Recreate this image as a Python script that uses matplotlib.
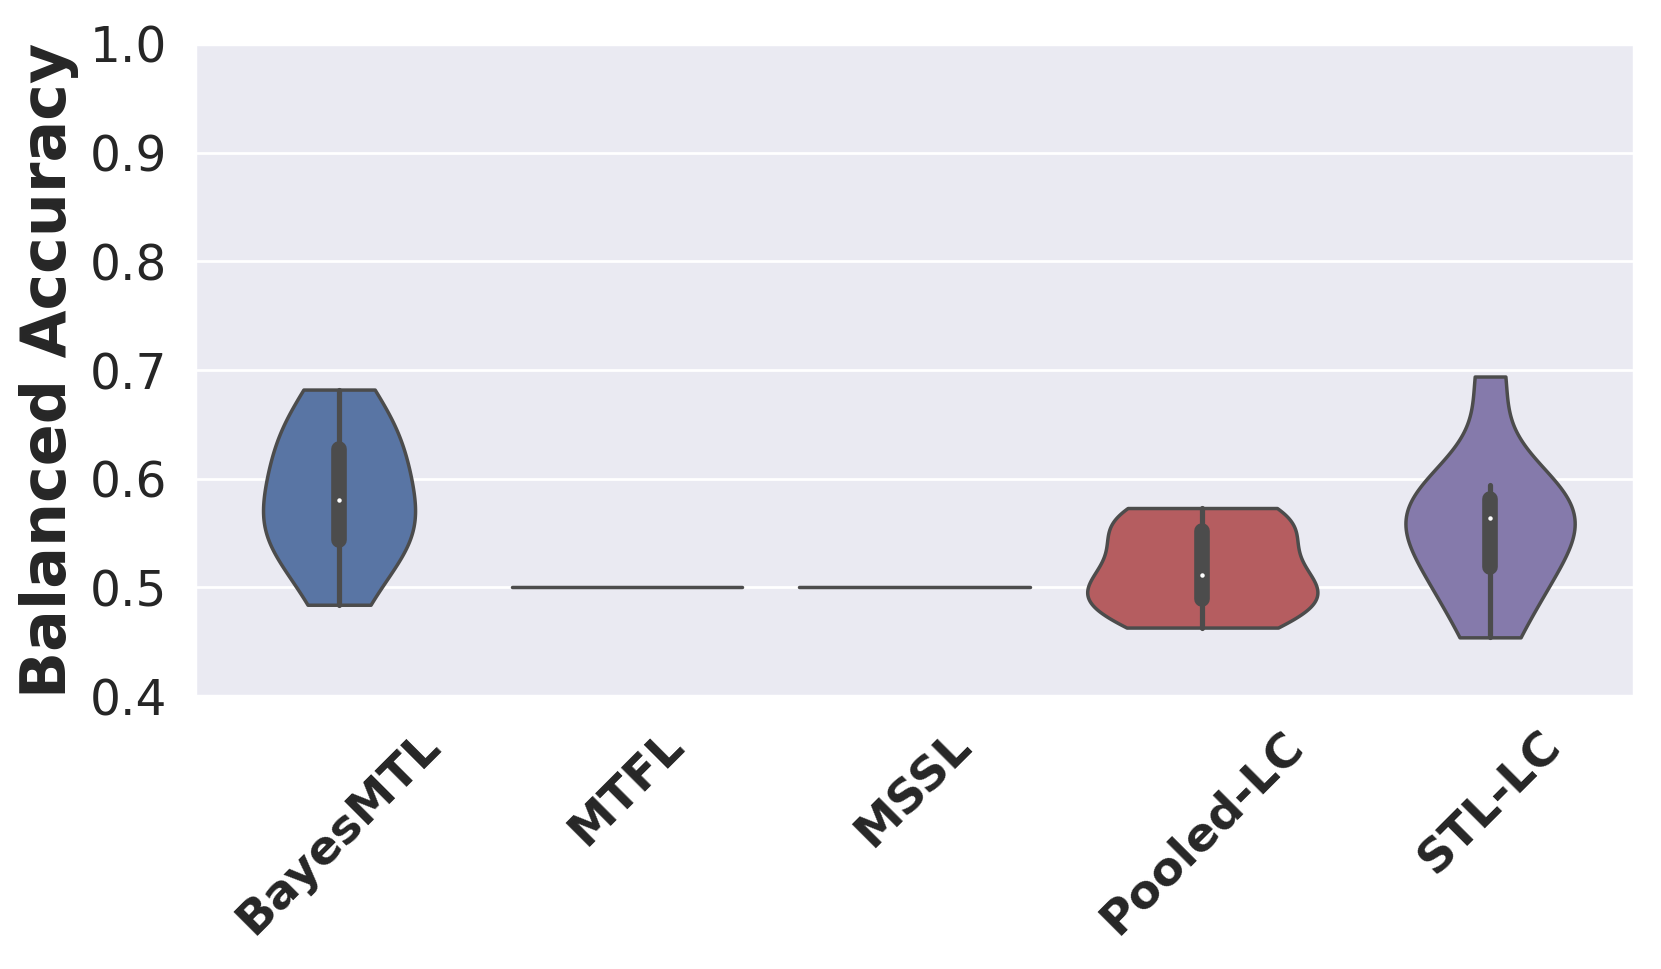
#!/usr/bin/env python3
"""Violin plot of balanced accuracy per method."""
import numpy as np
import pandas as pd

import matplotlib
matplotlib.use("Agg")
import matplotlib.pyplot as plt  # noqa: E402
import seaborn as sns  # noqa: E402

# ---- data (per-task balanced accuracy) --------------------------------------
methods = ["BayesMTL", "MTFL", "MSSL", "Pooled-LC", "STL-LC"]
bayes_mtl = [0.484, 0.530, 0.540, 0.555, 0.568, 0.592, 0.612, 0.632, 0.650, 0.682]
mtfl = [0.5] * 10
mssl = [0.5] * 10
pooled_lc = [0.463, 0.476, 0.487, 0.495, 0.503, 0.519, 0.538, 0.556, 0.566, 0.573]
stl_lc = [0.454, 0.495, 0.515, 0.530, 0.558, 0.570, 0.575, 0.583, 0.594, 0.694]
y_ticks = [0.4, 0.5, 0.6, 0.7, 0.8, 0.9, 1.0]


def main():
    values = [bayes_mtl, mtfl, mssl, pooled_lc, stl_lc]
    df = pd.DataFrame({
        "method": np.repeat(methods, [len(v) for v in values]),
        "acc": np.concatenate(values),
    })

    sns.set_theme(style="darkgrid")
    plt.rcParams["font.family"] = ["DejaVu Sans"]

    fig, ax = plt.subplots(figsize=(8.305, 4.845), dpi=200)
    sns.violinplot(data=df, x="method", y="acc", hue="method", order=methods,
                   palette="deep", cut=0, common_norm=True, legend=False, ax=ax)

    # median as a small white dot (older seaborn look)
    for line in ax.lines:
        if line.get_marker() == "_":
            line.set_marker("o")
            line.set_markersize(1.6)
            line.set_markeredgewidth(0)
            line.set_markerfacecolor("white")

    ax.set_ylim(0.4, 1.0)
    ax.set_yticks(y_ticks)
    ax.set_yticklabels([f"{t:.1f}" for t in y_ticks], fontsize=17.5)
    ax.set_xticks(range(len(methods)))
    ax.set_xticklabels(methods, rotation=45, fontsize=17, fontweight="bold")
    ax.set_xlabel("")
    ax.set_ylabel("Balanced Accuracy", fontsize=22.3, fontweight="bold")
    ax.tick_params(axis="y", pad=4)

    fig.subplots_adjust(left=0.1175, right=0.9837, top=0.9546, bottom=0.2817)
    fig.savefig("out.png", dpi=200)
    plt.close(fig)


if __name__ == "__main__":
    main()
